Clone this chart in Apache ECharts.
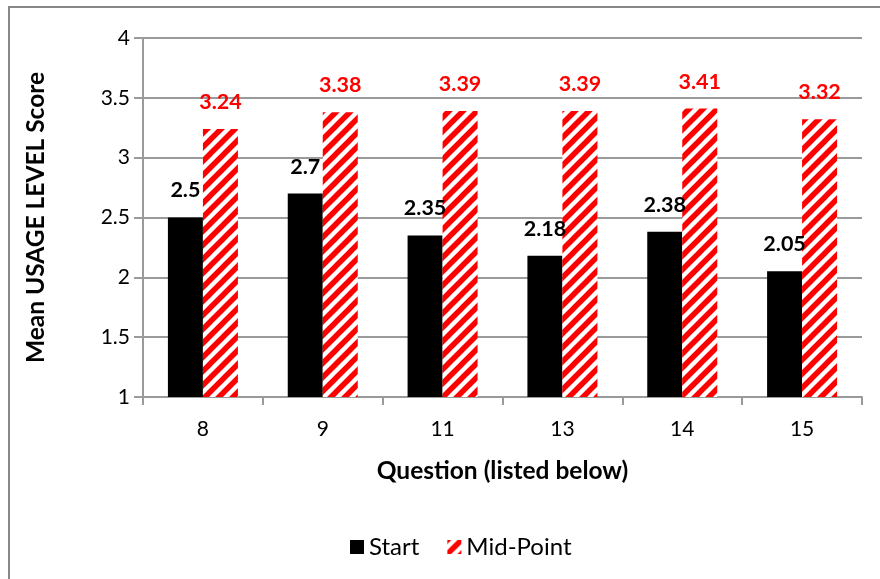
<!DOCTYPE html>
<html>
<head>
<meta charset="utf-8">
<script src="https://cdn.jsdelivr.net/npm/echarts@6/dist/echarts.min.js"></script>
<style>
  html, body { margin: 0; padding: 0; background: #fff; }
  #chart { width: 880px; height: 579px; }
</style>
</head>
<body>
<div id="chart"></div>
<script>
// Chart data
const questions = ['8', '9', '11', '13', '14', '15'];
const startScores = [2.5, 2.7, 2.35, 2.18, 2.38, 2.05];
const midPointScores = [3.24, 3.38, 3.39, 3.39, 3.41, 3.32];
const seriesNames = ['Start', 'Mid-Point'];

const FONT = 'Lato, "Open Sans", sans-serif';
const GRID_GREY = '#9a9a9a';

// Red diagonal hatching ("/" direction) on white
function makeStripes() {
  const s = 14;
  const c = document.createElement('canvas');
  c.width = s; c.height = s;
  const g = c.getContext('2d');
  g.fillStyle = '#ffffff';
  g.fillRect(0, 0, s, s);
  g.strokeStyle = '#ff0000';
  g.lineWidth = 5.5;
  g.beginPath();
  for (const off of [-s, 0, s]) {
    g.moveTo(off - 2, s + 2);
    g.lineTo(off + s + 2, -2);
  }
  g.stroke();
  return c;
}
const stripeFill = { image: makeStripes(), repeat: 'repeat' };

const chart = echarts.init(document.getElementById('chart'), null, { renderer: 'canvas' });

chart.setOption({
  animation: false,
  backgroundColor: '#ffffff',
  textStyle: { fontFamily: FONT },
  graphic: [{
    type: 'rect',
    shape: { x: 9, y: 7, width: 900, height: 620 },
    style: { fill: 'none', stroke: '#888888', lineWidth: 2 },
    silent: true
  }],
  grid: { left: 143, right: 18, top: 38, bottom: 182 },
  legend: {
    top: 530,
    left: 345,
    itemWidth: 14,
    itemHeight: 14,
    itemGap: 28,
    textStyle: { fontSize: 24, color: '#000', fontFamily: FONT },
    data: [
      { name: seriesNames[0], icon: 'rect' },
      { name: seriesNames[1], icon: 'rect' }
    ]
  },
  xAxis: {
    type: 'category',
    data: questions,
    name: 'Question (listed below)',
    nameLocation: 'middle',
    nameGap: 62,
    nameTextStyle: { fontSize: 24.5, fontWeight: 'bold', color: '#000', fontFamily: FONT },
    axisLine: { show: true, lineStyle: { color: GRID_GREY, width: 2 } },
    axisTick: { show: true, alignWithLabel: false, length: 8, lineStyle: { color: GRID_GREY, width: 2 } },
    axisLabel: { fontSize: 21, color: '#000', margin: 22, fontFamily: FONT }
  },
  yAxis: {
    type: 'value',
    min: 1,
    max: 4,
    interval: 0.5,
    name: 'Mean USAGE LEVEL Score',
    nameLocation: 'middle',
    nameGap: 94,
    nameTextStyle: { fontSize: 24.5, fontWeight: 'bold', color: '#000', fontFamily: FONT },
    axisLine: { show: true, lineStyle: { color: GRID_GREY, width: 2 } },
    axisTick: { show: true, length: 9, lineStyle: { color: GRID_GREY, width: 2 } },
    splitLine: { show: true, lineStyle: { color: GRID_GREY, width: 2 } },
    axisLabel: { fontSize: 21, color: '#000', margin: 13, fontFamily: FONT }
  },
  series: [
    {
      name: seriesNames[0],
      type: 'bar',
      data: startScores,
      barWidth: 35,
      barGap: '0%',
      itemStyle: { color: '#000000' },
      label: {
        show: true,
        position: 'top',
        distance: 16,
        fontSize: 21.5,
        fontWeight: 'bold',
        color: '#000',
        fontFamily: FONT
      }
    },
    {
      name: seriesNames[1],
      type: 'bar',
      data: midPointScores,
      barWidth: 35,
      barGap: '0%',
      itemStyle: { color: stripeFill },
      label: {
        show: true,
        position: 'top',
        distance: 16,
        fontSize: 21.5,
        fontWeight: 'bold',
        color: '#ff0000',
        fontFamily: FONT
      }
    }
  ]
});
</script>
</body>
</html>
